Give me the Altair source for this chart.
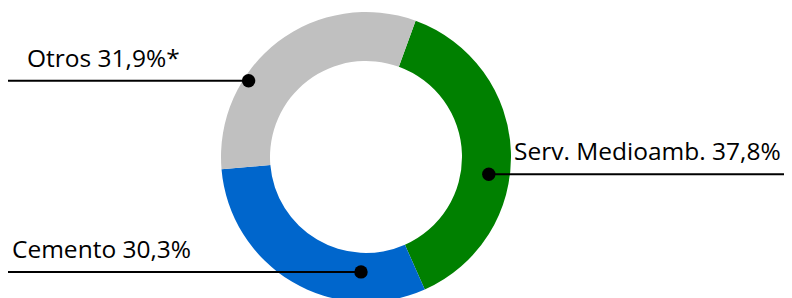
import altair as alt
import pandas as pd
import numpy as np

# ---- data ----
categories = ["Serv. Medioamb.", "Cemento", "Otros"]
values = [37.8, 30.3, 31.9]
labels = ["Serv. Medioamb. 37,8%", "Cemento 30,3%", "Otros 31,9%*"]
colors = ["#008000", "#0066CC", "#C0C0C0"]

# ---- layout (pixels inside the plot area) ----
W, H = 776, 290
CX, CY = 358, 149
R_OUT, R_IN = 145, 96
START = np.deg2rad(20)

# callout anchors: angle (deg clockwise from top) and radius of the dot
anchor_angle = [98, 182.5, 303]
anchor_radius = [124, 115, 140]
line_end = [W, 0, 0]
label_x = [506, 4, 19]
label_rise = 14

df = pd.DataFrame({"cat": categories, "value": values, "idx": range(3)})

ang = np.deg2rad(anchor_angle)
dx = CX + np.array(anchor_radius) * np.sin(ang)
dy = CY - np.array(anchor_radius) * np.cos(ang)
ann = pd.DataFrame({
    "label": labels,
    "dx": dx, "dy": dy,
    "x1": np.minimum(dx, line_end), "x2": np.maximum(dx, line_end),
    "tx": label_x, "ty": dy - label_rise,
})

xs = alt.Scale(domain=[0, W], range=[0, W])
ys = alt.Scale(domain=[0, H], range=[0, H])

arc = alt.Chart(df).mark_arc(radius=R_OUT, radius2=R_IN, stroke=None).encode(
    theta=alt.Theta("value:Q", stack=True, scale=alt.Scale(range=[START, START + 2 * np.pi])),
    order=alt.Order("idx:Q"),
    color=alt.Color("cat:N", scale=alt.Scale(domain=categories, range=colors), legend=None),
    x=alt.value(CX), y=alt.value(CY),
)

rules = alt.Chart(ann).mark_rule(color="black", strokeWidth=2).encode(
    x=alt.X("x1:Q", scale=xs, axis=None), x2="x2:Q",
    y=alt.Y("dy:Q", scale=ys, axis=None),
)
dots = alt.Chart(ann).mark_circle(color="black", opacity=1, size=180).encode(
    x=alt.X("dx:Q", scale=xs, axis=None), y=alt.Y("dy:Q", scale=ys, axis=None),
)
texts = alt.Chart(ann).mark_text(
    align="left", baseline="alphabetic", font="Open Sans", fontSize=24.5, color="black"
).encode(
    x=alt.X("tx:Q", scale=xs, axis=None), y=alt.Y("ty:Q", scale=ys, axis=None),
    text="label:N",
)

chart = alt.layer(arc, rules, dots, texts).properties(
    width=W, height=H, padding=0, autosize=alt.AutoSizeParams(type="none")
).configure_view(stroke=None)

chart.save("out.html", embed_options={"renderer": "svg", "actions": False})
